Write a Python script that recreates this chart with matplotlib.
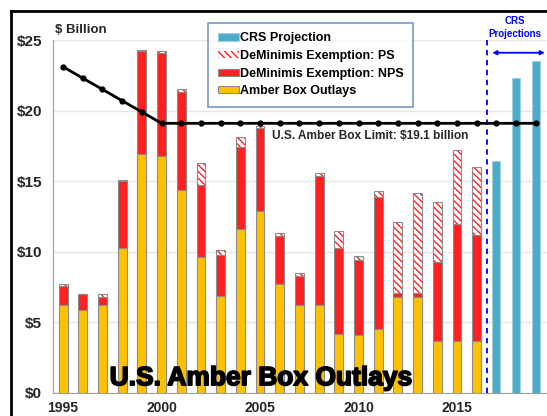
import matplotlib.pyplot as plt
import matplotlib.patheffects as pe
import numpy as np
from matplotlib.lines import Line2D

plt.rcParams['font.family'] = ['Liberation Sans', 'DejaVu Sans']

# Data ($ billion)
years = np.arange(1995, 2017)
amber = [6.2, 5.9, 6.2, 10.3, 16.9, 16.8, 14.4, 9.6, 6.9, 11.6, 12.9,
         7.7, 6.2, 6.2, 4.2, 4.1, 4.5, 6.8, 6.8, 3.7, 3.7, 3.7]
nps = [1.4, 1.1, 0.6, 4.7, 7.3, 7.3, 6.9, 5.1, 2.9, 5.8, 5.9,
       3.4, 2.1, 9.2, 6.1, 5.3, 9.4, 0.3, 0.3, 5.6, 8.3, 7.5]
ps = [0.1, 0.0, 0.2, 0.1, 0.1, 0.1, 0.2, 1.6, 0.3, 0.7, 0.1,
      0.2, 0.2, 0.2, 1.2, 0.3, 0.4, 5.0, 7.1, 4.2, 5.2, 4.8]
proj_years = [2017, 2018, 2019]
proj = [16.4, 22.3, 23.5]
limit_years = np.arange(1995, 2020)
limit = [23.1, 22.3, 21.5, 20.7, 19.9] + [19.1] * 20

fig = plt.figure(figsize=(5.47, 4.16), dpi=100)
ax = fig.add_axes([0.097, 0.0553, 0.903, 0.8485])

w = 0.45
amber_c = '#FFC000'
red_c = '#FF2020'
crs_c = '#4BACC6'
edge = '#8c8c8c'

ax.bar(years, amber, w, color=amber_c, edgecolor=edge, linewidth=0.8,
       label='Amber Box Outlays', zorder=3)
ax.bar(years, nps, w, bottom=amber, color=red_c, edgecolor=edge, linewidth=0.8,
       label='DeMinimis Exemption: NPS', zorder=3)
bot2 = np.array(amber) + np.array(nps)
ax.bar(years, ps, w, bottom=bot2, color='white', edgecolor=red_c, hatch='\\\\\\\\\\',
       linewidth=0, label='DeMinimis Exemption: PS', zorder=3)
ax.bar(years, ps, w, bottom=bot2, color='none', edgecolor=edge, linewidth=0.8, zorder=4)
ax.bar(proj_years, proj, w * 0.9, color=crs_c, edgecolor='#9fd0dd', linewidth=0.8,
       label='CRS Projection', zorder=3)

ax.plot(limit_years, limit, color='black', lw=2, marker='o', ms=3.5, zorder=5)
ax.text(2005.6, 18.2, 'U.S. Amber Box Limit: $19.1 billion', fontsize=8.6,
        fontweight='bold', color='#262626', va='center', zorder=6)

ax.axvline(2016.5, color='blue', lw=1.3, ls=(0, (3, 2.5)), zorder=4)
ax.annotate('', xy=(2016.65, 24.1), xytext=(2019.6, 24.1),
            arrowprops=dict(arrowstyle='<|-|>', color='blue', lw=1.3,
                            mutation_scale=6), annotation_clip=False)
ax.text(2017.95, 25.05, 'CRS\nProjections', color='blue', fontsize=7,
        fontweight='bold', ha='center', va='bottom', clip_on=False,
        linespacing=1.45)

ax.text(2005.05, 1.05, 'U.S. Amber Box Outlays', fontsize=19, fontweight='heavy',
        ha='center', va='center', color='black', zorder=6,
        path_effects=[pe.withStroke(linewidth=1.2, foreground='black')])

ax.set_xlim(1994.49, 2019.57)
ax.set_ylim(0, 25)
ax.set_yticks([0, 5, 10, 15, 20, 25])
ax.set_yticklabels(['$0', '$5', '$10', '$15', '$20', '$25'])
ax.set_xticks([1995, 2000, 2005, 2010, 2015])
ax.tick_params(length=0, labelsize=10)
ax.tick_params(axis='x', pad=6)
ax.tick_params(axis='y', labelsize=11, pad=8)
for lab in ax.get_xticklabels() + ax.get_yticklabels():
    lab.set_fontweight('bold')
    lab.set_color('#262626')
ax.grid(axis='y', color='#e6e6e6', lw=1, zorder=0)
for s in ['top', 'right']:
    ax.spines[s].set_visible(False)
for s in ['left', 'bottom']:
    ax.spines[s].set_color('#a0a0a0')

handles, labels = ax.get_legend_handles_labels()
order = [3, 2, 1, 0]
leg = ax.legend([handles[i] for i in order], [labels[i] for i in order],
                loc='upper left', bbox_to_anchor=(0.314, 1.048),
                prop={'weight': 'bold', 'size': 9}, fancybox=False,
                handlelength=1.7, handleheight=0.5, handletextpad=0.1,
                borderpad=0.75, borderaxespad=0, labelspacing=0.45)
leg.get_frame().set_edgecolor('#5b7db1')
leg.get_frame().set_linewidth(1.2)
leg.set_zorder(7)

fig.text(55 / 547, 1 - 30 / 416, '$ Billion', fontsize=9.5, fontweight='bold',
         va='center', color='#262626')

# outer frame
fig.add_artist(Line2D([11 / 547, 11 / 547], [0, 1 - 11 / 416], color='black', lw=2))
fig.add_artist(Line2D([11 / 547, 1], [1 - 11 / 416, 1 - 11 / 416], color='black', lw=2))

fig.savefig('out.png', dpi=100)
